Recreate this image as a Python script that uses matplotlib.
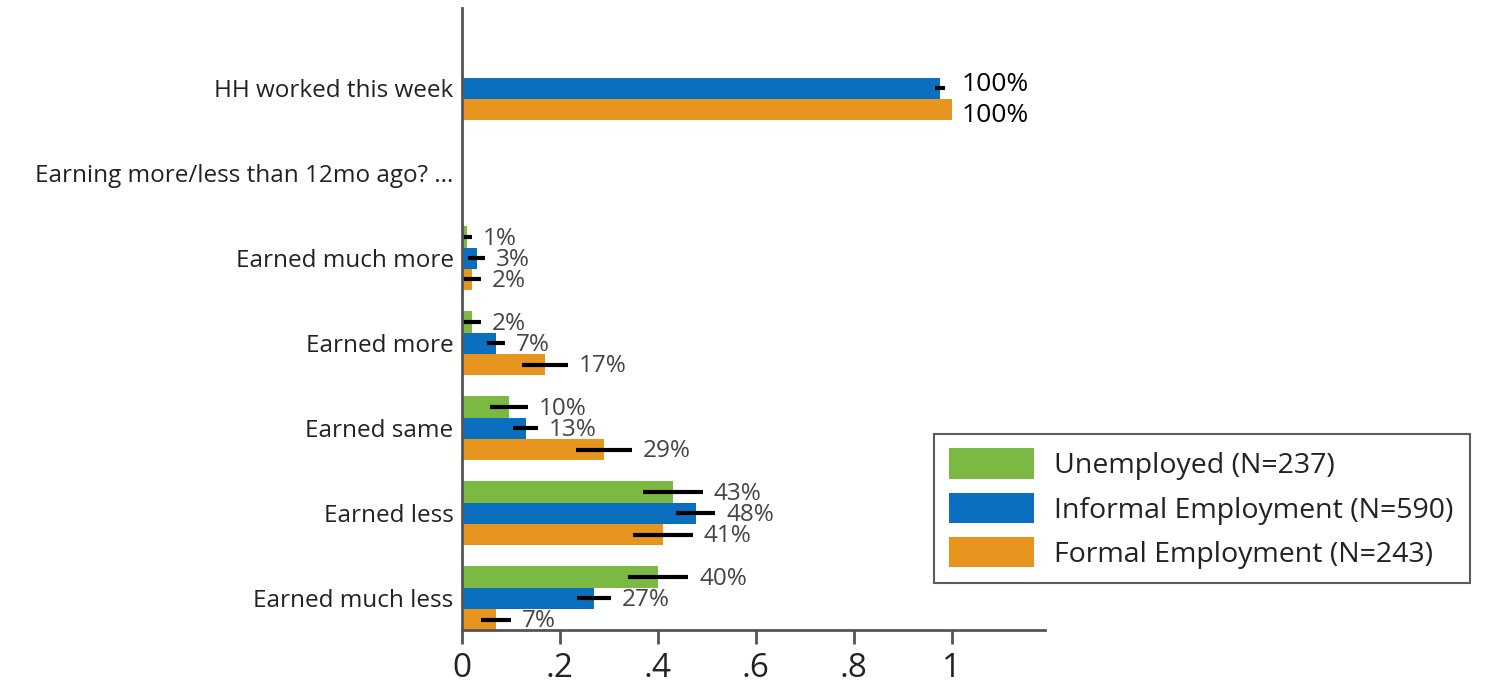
import numpy as np
import matplotlib
matplotlib.use("Agg")
import matplotlib.pyplot as plt
from matplotlib.patches import Patch

plt.rcParams["font.family"] = ["Open Sans", "DejaVu Sans"]

categories = [
    "HH worked this week",
    "Earning more/less than 12mo ago? ...",
    "Earned much more",
    "Earned more",
    "Earned same",
    "Earned less",
    "Earned much less",
]
series_names = [
    "Unemployed (N=237)",
    "Informal Employment (N=590)",
    "Formal Employment (N=243)",
]
nan = np.nan
unemployed = [nan, nan, 0.01, 0.02, 0.096, 0.43, 0.40]
informal = [0.976, nan, 0.03, 0.07, 0.13, 0.477, 0.27]
formal = [1.0, nan, 0.02, 0.17, 0.29, 0.41, 0.07]
unemployed_err = [nan, nan, 0.01, 0.018, 0.038, 0.061, 0.062]
informal_err = [0.01, nan, 0.017, 0.018, 0.026, 0.04, 0.035]
formal_err = [0.0, nan, 0.018, 0.047, 0.057, 0.061, 0.031]
unemployed_lbl = ["", "", "1%", "2%", "10%", "43%", "40%"]
informal_lbl = ["100%", "", "3%", "7%", "13%", "48%", "27%"]
formal_lbl = ["100%", "", "2%", "17%", "29%", "41%", "7%"]

colors = ["#7cb942", "#0b6fc0", "#e8951f"]
values = [unemployed, informal, formal]
errors = [unemployed_err, informal_err, formal_err]
labels = [unemployed_lbl, informal_lbl, formal_lbl]

fig = plt.figure(figsize=(14.95, 6.91), dpi=100)
ax = fig.add_axes([0.309, 0.088, 0.39, 0.9])

h = 0.25
offsets = [-h, 0.0, h]
for s in range(3):
    for i, v in enumerate(values[s]):
        if np.isnan(v):
            continue
        y = i + offsets[s]
        ax.barh(y, v, height=h, color=colors[s], edgecolor="none")
        e = errors[s][i]
        if e > 0:
            ax.plot([v - e, v + e], [y, y], color="black", lw=3, solid_capstyle="butt")
        big = labels[s][i] == "100%"
        tx = v + e + 0.022
        ty = y + 0.02
        if big:
            # both 100% labels share one column, as in the original
            tx = 1.02
            ty = y + (0.07 if s == 2 else -0.04)
        ax.text(tx, ty, labels[s][i], va="center", ha="left",
                fontsize=19 if big else 17.5,
                color="black" if big else "#444444")

ax.set_yticks(range(len(categories)))
ax.set_yticklabels(categories, fontsize=17.5, color="#222222")
ax.tick_params(axis="y", length=0, pad=6)
ax.set_xticks([0, 0.2, 0.4, 0.6, 0.8, 1.0])
ax.set_xticklabels(["0", ".2", ".4", ".6", ".8", "1"], fontsize=24, color="#222222")
ax.tick_params(axis="x", length=10, width=2, color="#555555", pad=6)
ax.set_xlim(0, 1.19)
ax.set_ylim(6 + 1.5 * h, -0.94)
for side in ["top", "right"]:
    ax.spines[side].set_visible(False)
for side in ["left", "bottom"]:
    ax.spines[side].set_linewidth(2)
    ax.spines[side].set_color("#555555")

handles = [Patch(facecolor=c, edgecolor="none") for c in colors]
leg = fig.legend(handles, series_names, loc="lower left",
                 bbox_to_anchor=(0.625, 0.156, 0.358, 0.214), mode="expand",
                 fontsize=20.5, frameon=True, fancybox=False, handlelength=3.0,
                 handleheight=1.25, handletextpad=0.7, borderpad=0.5, labelspacing=0.45,
                 borderaxespad=0)
leg.get_frame().set_edgecolor("#333333")
leg.get_frame().set_linewidth(1.5)
for t in leg.get_texts():
    t.set_color("#222222")

fig.savefig("out.png", dpi=100)
